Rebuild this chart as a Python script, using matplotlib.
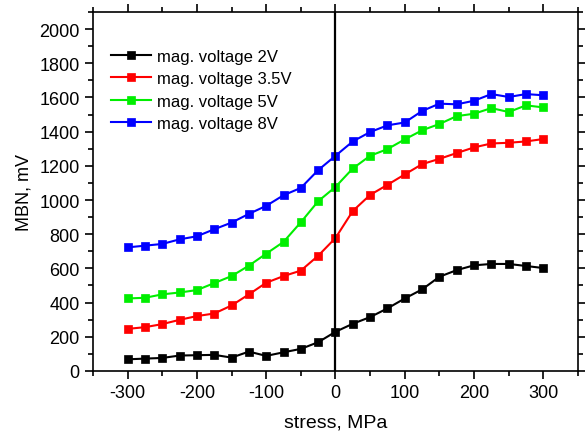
import matplotlib
matplotlib.use("Agg")
import matplotlib.pyplot as plt
from matplotlib.ticker import MultipleLocator

plt.rcParams['font.family'] = ['Liberation Sans', 'DejaVu Sans']
plt.rcParams['axes.unicode_minus'] = False

stress = [-300, -275, -250, -225, -200, -175, -150, -125, -100, -75, -50, -25, 0,
          25, 50, 75, 100, 125, 150, 175, 200, 225, 250, 275, 300]
v2 = [68, 72, 76, 90, 92, 94, 78, 113, 88, 109, 129, 168, 229,
      276, 315, 366, 424, 477, 551, 590, 618, 626, 626, 614, 602]
v35 = [246, 256, 274, 299, 321, 336, 383, 448, 516, 555, 587, 674, 778,
       936, 1030, 1089, 1150, 1210, 1241, 1275, 1308, 1331, 1335, 1343, 1357]
v5 = [424, 428, 448, 459, 473, 514, 555, 616, 686, 755, 870, 993, 1077,
      1185, 1259, 1298, 1355, 1408, 1445, 1491, 1505, 1538, 1515, 1554, 1542]
v8 = [723, 733, 743, 770, 788, 829, 868, 919, 966, 1028, 1071, 1175, 1259,
      1343, 1398, 1437, 1454, 1521, 1564, 1560, 1581, 1620, 1603, 1620, 1613]

series = [
    (v2, '#000000', 'mag. voltage 2V'),
    (v35, '#ff0000', 'mag. voltage 3.5V'),
    (v5, '#00ee00', 'mag. voltage 5V'),
    (v8, '#0000ff', 'mag. voltage 8V'),
]

fig = plt.figure(figsize=(5.85, 4.35), dpi=100)
ax = fig.add_axes([0.159, 0.145, 0.829, 0.825])

for vals, col, lab in series:
    ax.plot(stress, vals, color=col, marker='s', markersize=5.5, linewidth=1.5,
            label=lab, markeredgewidth=0.5, markeredgecolor=col)

ax.axvline(0, color='black', linewidth=1.6)

ax.set_xlim(-350, 350)
ax.set_ylim(0, 2100)
ax.xaxis.set_major_locator(MultipleLocator(100))
ax.xaxis.set_minor_locator(MultipleLocator(50))
ax.yaxis.set_major_locator(MultipleLocator(200))
ax.yaxis.set_minor_locator(MultipleLocator(100))
ax.set_yticks(range(0, 2001, 200))
ax.tick_params(which='both', direction='out', top=True, right=True, width=1.2)
ax.tick_params(which='major', length=6, labelsize=13)
ax.tick_params(which='minor', length=3.5)
for s in ax.spines.values():
    s.set_linewidth(1.2)

ax.set_xlabel('stress, MPa', fontsize=14, labelpad=9)
ax.set_ylabel('MBN, mV', fontsize=13, labelpad=5)

ax.legend(loc='upper left', frameon=False, fontsize=12, handlelength=2.4,
          handletextpad=0.35, labelspacing=0.45, bbox_to_anchor=(0.006, 0.94))

fig.savefig('out.png', dpi=100)
